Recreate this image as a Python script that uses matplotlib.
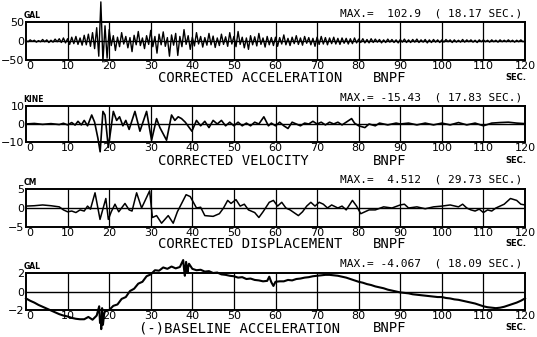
import numpy as np
import matplotlib
matplotlib.use("Agg")
import matplotlib.pyplot as plt

# ---- data (BNPF) ----
# corrected acceleration (GAL), sampled every 0.5 s
acc_t = np.arange(0, 120.5, 0.5)
acc = [1, -2, 3, -1, 2, -3, 1, -2, 4, -2, 3, -4, 2, -3, 5, -2, 6, -4, 8, -5,
       6, -9, 10, -7, 12, -9, 8, -11, 15, -10, 18, -14, 22, -20, 35, -40, 102.9, -55, 40, -45,
       30, -12, 14, -25, 10, -15, 22, -8, 12, -18, 9, -28, 15, -10, 25, -12, 8, -20, 14, -9,
       28, -15, 12, -32, 18, -10, 24, -14, 9, -40, 16, -11, 20, -38, 12, -15, 30, -9, 14, -22,
       10, -13, 22, -8, 12, -16, 9, -11, 20, -10, 13, -17, 8, -12, 18, -9, 11, -14, 22, -8,
       12, -15, 25, -9, 10, -18, 8, -22, 14, -10, 11, -13, 20, -9, 8, -16, 12, -10, 9, -12,
       10, -14, 9, -8, 16, -10, 7, -12, 10, -7, 14, -9, 8, -11, 12, -6, 9, -10, 7, -14,
       10, -9, 12, -8, 9, -10, 8, -7, 10, -8, 7, -9, 8, -6, 7, -8, 6, -7, 8, -5,
       5, -4, 6, -5, 4, -5, 6, -4, 5, -3, 4, -5, 3, -4, 5, -3, 4, -4, 3, -5,
       4, -3, 5, -4, 3, -4, 4, -3, 5, -4, 3, -3, 4, -5, 3, -4, 4, -3, 3, -4,
       3, -3, 4, -2, 3, -4, 3, -3, 2, -3, 4, -3, 3, -2, 3, -3, 2, -4, 3, -2,
       3, -2, 2, -3, 3, -2, 2, -3, 3, -2, 2, -2, 3, -2, 2, -3, 2, -2, 3, -2,
       0]

# corrected velocity (KINE), turning points
vel_t = [0, 2, 4, 6, 8, 9, 10, 11, 11.8, 12.5, 13.3, 14, 14.8, 15.8, 16.5, 17.3, 17.83, 18.5, 19, 19.8,
         21, 21.8, 22.5, 23.3, 24, 24.8, 26.2, 27.4, 29, 30.2, 31.4, 32.2, 33.8, 35, 35.8, 36.6, 37.4, 38.3, 39.9,
         41, 42, 43, 44, 45, 46, 47, 48, 49, 50, 51, 52, 53, 54, 55, 56, 57.2, 58.3, 59,
         60, 61, 62, 63, 64, 65, 66, 67, 68, 69, 70, 71, 72, 73, 74, 75, 76, 77, 78.3, 79,
         80, 81.5, 82.5, 84, 85, 87, 89, 90, 92, 94, 96, 98, 100, 102, 104, 106, 108, 110,
         112, 114, 116, 118, 120]
vel = [0, 0.3, -0.2, 0.2, -0.3, 0.4, -0.5, 0.8, -0.6, 1.5, -0.5, 2, -1, 5, 1, -8, -15.43, 7, 5, -13,
       7, 2, 4, -1, 2, -3, 7, -4, 7, -9, 3, -2, -9, 5, 2, 4, 3, 1, -4,
       2, -1, 1.5, -2, 2, 0, 2, -1, 1, -1, 1, -1, 0.5, -1, 1, 0, 4, -1, 0.5,
       -1, 1, -1, -2.5, 1, 0, -1, 0.5, 0, 1.5, 0, 1, -0.5, 1, 0, 1, -0.5, 1, 3, 0.5,
       -1, -2, 0, -1, 0.5, -0.5, 0.5, 0, 0.5, -0.5, 0.5, -0.5, 0.5, -0.5, 0.8, -0.5, 0.5, -1,
       0.5, 0.8, 1, 0.5, 0.2]

# corrected displacement (CM), turning points
dis_t = [0, 2, 4, 6, 8, 9, 10, 11, 12, 13, 14, 14.8, 15.5, 16.6, 17.8, 19.2, 19.8, 20.5, 21.4, 22.3,
         23.8, 24.8, 25.5, 26.6, 27.8, 29.73, 30.4, 31.4, 32.6, 34.2, 35.4, 36.4, 38.5, 39.5, 41, 42, 43, 45,
         46.5, 47.5, 48.5, 49.3, 50.5, 51.5, 52.5, 53.5, 55, 56, 57, 58.5, 59.5, 60.5, 61.5, 62.5, 63.5,
         65.5, 66.5, 67.5, 68.5, 69.5, 70.5, 71.5, 72.5, 73.5, 75, 76, 77, 78.5, 79.5, 80.5, 81.5, 82.5,
         84, 86, 88, 90, 91, 92, 94, 96, 98, 100, 102, 104, 105, 106, 107, 108, 109, 110, 111, 112,
         113, 114, 115, 116.5, 118, 119, 120]
dis = [0.5, 0.6, 0.8, 0.6, 0.3, -0.5, -1, -0.8, -1.2, -0.5, -0.8, 0.5, -0.3, 4, -3, 2.5, -3, -1, 1, -1,
       1.2, -0.5, -0.8, 4, 0, 4.51, -2.5, -2, -4, -2, -4, -1, 3.5, 3, 0, 0.2, -2, -2.2,
       -1.5, 0, 2, 1.2, 2.2, 0.5, 1, -0.5, -1.2, -2.5, -1, 1.5, 2, 0.5, 1.5, 0, -0.5,
       -2, -1, 0.5, 1.5, 0.5, 1.5, 1, 0, 0.8, 0, 0.5, -0.5, 2, 0.5, -1.5, -1, -0.5,
       -0.5, 0.3, 0, 0.8, 1, 0, 0.3, -0.2, 0.3, 0.5, 0.8, 0.3, 1, 0, -0.5, -0.8, -0.3, -1.2, -0.5, -0.8,
       0, 0.5, 1, 2.5, 2, 1, 0.8]

# (-) baseline acceleration (GAL), every 1 s, plus the spikes near 18 s and 38 s
base_t = np.arange(0, 121, 1)
base = [-0.75, -1.0, -1.2, -1.45, -1.65, -1.85, -2.05, -2.25, -2.45, -2.6,
        -2.7, -2.85, -2.95, -3.0, -3.0, -2.75, -3.05, -2.6, -2.8, -2.15,
        -2.0, -1.55, -1.4, -0.8, -0.6, 0.05, 0.3, 0.85, 1.05, 1.65,
        1.85, 2.3, 2.25, 2.6, 2.45, 2.7, 2.5, 2.65, 2.45, 2.6,
        2.45, 2.3, 2.35, 2.15, 2.2, 2.0, 2.05, 1.85, 1.8, 1.7,
        1.65, 1.5, 1.55, 1.35, 1.4, 1.25, 1.2, 1.1, 1.15, 1.0,
        1.05, 1.1, 1.1, 1.25, 1.2, 1.35, 1.4, 1.5, 1.55, 1.65,
        1.7, 1.75, 1.8, 1.8, 1.75, 1.7, 1.6, 1.5, 1.35, 1.2,
        1.05, 0.95, 0.8, 0.7, 0.55, 0.45, 0.35, 0.2, 0.1, 0.0,
        -0.1, -0.15, -0.2, -0.3, -0.35, -0.4, -0.45, -0.5, -0.55, -0.6,
        -0.6, -0.7, -0.75, -0.85, -0.9, -1.0, -1.1, -1.2, -1.3, -1.45,
        -1.6, -1.7, -1.75, -1.8, -1.75, -1.65, -1.5, -1.35, -1.2, -1.0,
        -0.75]
spike_t = [17.6, 17.8, 18.09, 18.3, 18.5, 18.8, 37.8, 38.2, 38.5, 38.9, 39.2, 58.5, 59.5]
spike = [-1.6, -3.4, -4.07, -1.8, -3.6, -2.4, 3.4, 1.7, 3.2, 2.0, 3.0, 1.6, 0.6]

base_all_t = np.concatenate([base_t, spike_t])
base_all = np.concatenate([base, spike])
order = np.argsort(base_all_t, kind="stable")

panels = [
    (acc_t, acc, 50, [-50, 0, 50], "GAL", "MAX.=  102.9  ( 18.17 SEC.)", "CORRECTED ACCELERATION", 0.0, 1.0),
    (vel_t, vel, 10, [-10, 0, 10], "KINE", "MAX.= -15.43  ( 17.83 SEC.)", "CORRECTED VELOCITY", 0.0, 1.2),
    (dis_t, dis, 5, [-5, 0, 5], "CM", "MAX.=  4.512  ( 29.73 SEC.)", "CORRECTED DISPLACEMENT", 0.0, 1.1),
    (base_all_t[order], base_all[order], 2, [-2, 0, 2], "GAL", "MAX.= -4.067  ( 18.09 SEC.)",
     "(-)BASELINE ACCELERATION", -19.0, 1.5),
]

W, H = 537, 337
fig = plt.figure(figsize=(W / 100, H / 100), dpi=100)
fig.patch.set_facecolor("white")

# axes boxes in pixels: (top, bottom)
boxes = [(22, 60), (106, 142), (189, 227), (273, 310)]
title_y = [78, 161, 244, 328]
left, right = 26, 525
mono = "DejaVu Sans Mono"

for (t, y, lim, yt, unit, maxtxt, title, dx, lw), (top, bot), ty in zip(panels, boxes, title_y):
    ax = fig.add_axes([left / W, 1 - bot / H, (right - left) / W, (bot - top) / H])
    ax.set_xlim(0, 120)
    ax.set_ylim(-lim, lim)
    for x in range(10, 120, 10):
        ax.axvline(x, color="black", lw=0.9)
    ax.axhline(0, color="black", lw=1.0)
    ax.plot(t, y, color="black", lw=lw, clip_on=False)
    for s in ax.spines.values():
        s.set_linewidth(1.4)
    ax.set_xticks(range(0, 121, 10))
    ax.set_yticks(yt)
    ax.tick_params(length=0, labelsize=8, pad=1)
    ax.get_xticklabels()[0].set_horizontalalignment("left")
    ax.text(-0.005, 1.06, unit, transform=ax.transAxes, fontsize=5.5, ha="left", va="bottom",
            fontweight="bold")
    fig.text(340 / W, 1 - (top - 9) / H, maxtxt, fontsize=8, family=mono, ha="left", va="center")
    fig.text(505 / W, 1 - ty / H, "SEC.", fontsize=6, fontweight="bold", ha="left", va="center")
    fig.text((158 + dx) / W, 1 - ty / H, title, fontsize=10, family=mono, ha="left", va="center")
    fig.text(373 / W, 1 - ty / H, "BNPF", fontsize=10, family=mono, ha="left", va="center")

fig.savefig("out.png", dpi=100, facecolor="white")
